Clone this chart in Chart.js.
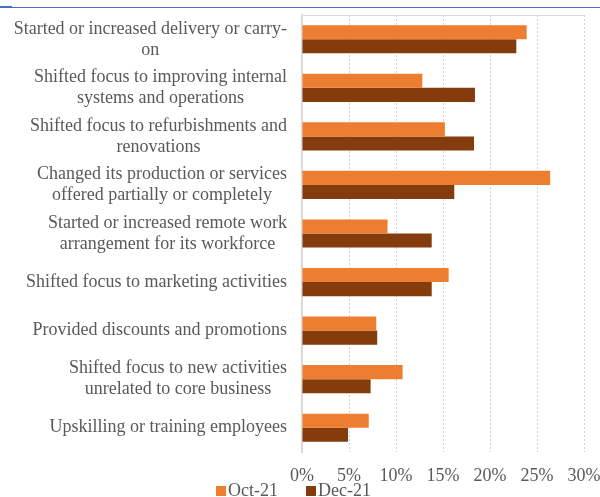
<!DOCTYPE html>
<html>
<head>
<meta charset="utf-8">
<script src="https://cdn.jsdelivr.net/npm/chart.js@4/dist/chart.umd.min.js"></script>
<style>
  html, body { margin: 0; padding: 0; background: #fff; }
  #wrap { width: 600px; height: 497px; position: relative; }
</style>
</head>
<body>
<div id="wrap"><canvas id="chart"></canvas></div>
<script>
// 類別標籤（每個陣列是一行一行的文字）
const categories = [
  ['Started or increased delivery or carry-', 'on'],
  ['Shifted focus to improving internal', 'systems and operations'],
  ['Shifted focus to refurbishments and', 'renovations'],
  ['Changed its production or services', 'offered partially or completely'],
  ['Started or increased remote work', 'arrangement for its workforce'],
  ['Shifted focus to marketing activities'],
  ['Provided discounts and promotions'],
  ['Shifted focus to new activities', 'unrelated to core business'],
  ['Upskilling or training employees']
];

const seriesNames = ['Oct-21', 'Dec-21'];
const oct21 = [0.239, 0.128, 0.152, 0.264, 0.091, 0.156, 0.079, 0.107, 0.071];
const dec21 = [0.228, 0.184, 0.183, 0.162, 0.138, 0.138, 0.080, 0.073, 0.049];

const xTicks = [0, 0.05, 0.10, 0.15, 0.20, 0.25, 0.30];

const FONT = '"Liberation Serif", "DejaVu Serif", serif';
const TEXT = '#595959';
const COLORS = ['#ED7D31', '#843C0C'];

// 頂部藍色線條
const topRule = {
  id: 'topRule',
  beforeDraw(chart) {
    const ctx = chart.ctx;
    ctx.save();
    ctx.fillStyle = '#4472C4';
    ctx.fillRect(0, 7, chart.width, 1);
    ctx.fillRect(0, 6, 12, 2);
    ctx.restore();
  }
};

// 繪圖區上邊框
const plotTop = {
  id: 'plotTop',
  beforeDatasetsDraw(chart) {
    const { ctx, chartArea } = chart;
    ctx.save();
    ctx.strokeStyle = '#d9d9d9';
    ctx.lineWidth = 1;
    ctx.beginPath();
    ctx.moveTo(chartArea.left, Math.round(chartArea.top) + 0.5);
    ctx.lineTo(chartArea.right, Math.round(chartArea.top) + 0.5);
    ctx.stroke();
    ctx.restore();
  }
};

// 類別標籤：整塊靠右，多行之間置中
const categoryLabels = {
  id: 'categoryLabels',
  afterDraw(chart) {
    const { ctx } = chart;
    const yScale = chart.scales.y;
    const rightEdge = 287;
    const lineH = 21;
    ctx.save();
    ctx.font = '18px ' + FONT;
    ctx.fillStyle = TEXT;
    ctx.textAlign = 'center';
    ctx.textBaseline = 'middle';
    categories.forEach((lines, i) => {
      const y = yScale.getPixelForValue(i);
      const widest = Math.max(...lines.map((l) => ctx.measureText(l).width));
      const cx = rightEdge - widest / 2;
      const y0 = y - ((lines.length - 1) * lineH) / 2;
      lines.forEach((l, k) => ctx.fillText(l, cx, y0 + k * lineH));
    });
    ctx.restore();
  }
};

// 底部圖例
const bottomLegend = {
  id: 'bottomLegend',
  afterDraw(chart) {
    const { ctx } = chart;
    const starts = [216, 306];
    const y = 491;
    ctx.save();
    ctx.font = '18px ' + FONT;
    ctx.textBaseline = 'middle';
    ctx.textAlign = 'left';
    chart.data.datasets.forEach((ds, i) => {
      ctx.fillStyle = ds.backgroundColor;
      ctx.fillRect(starts[i], y - 5, 10, 10);
      ctx.fillStyle = TEXT;
      ctx.fillText(ds.label, starts[i] + 12, y);
    });
    ctx.restore();
  }
};

new Chart(document.getElementById('chart'), {
  type: 'bar',
  data: {
    labels: categories,
    datasets: seriesNames.map((name, i) => ({
      label: name,
      data: i === 0 ? oct21 : dec21,
      backgroundColor: COLORS[i],
      categoryPercentage: 0.58,
      barPercentage: 1.0
    }))
  },
  options: {
    indexAxis: 'y',
    responsive: true,
    maintainAspectRatio: false,
    animation: false,
    layout: { padding: { top: 15, right: 16, left: 0, bottom: 0 } },
    scales: {
      x: {
        min: 0,
        max: 0.30,
        afterBuildTicks: (scale) => {
          scale.ticks = xTicks.map((v) => ({ value: v }));
        },
        afterFit: (scale) => {
          scale.height = 45;
          scale.paddingLeft = 0;
          scale.paddingRight = 0;
        },
        ticks: {
          callback: (v) => Math.round(v * 100) + '%',
          color: TEXT,
          font: { family: FONT, size: 18 },
          padding: 13,
          maxRotation: 0
        },
        grid: {
          color: '#d0d0d0',
          drawTicks: false
        },
        border: { display: false, dash: [2, 2] }
      },
      y: {
        ticks: { display: false },
        grid: { display: false },
        border: { display: true, color: '#d9d9d9', width: 2 },
        afterFit: (scale) => {
          scale.width = 302;
        }
      }
    },
    plugins: {
      legend: { display: false },
      tooltip: { enabled: false }
    }
  },
  plugins: [topRule, plotTop, categoryLabels, bottomLegend]
});
</script>
</body>
</html>
